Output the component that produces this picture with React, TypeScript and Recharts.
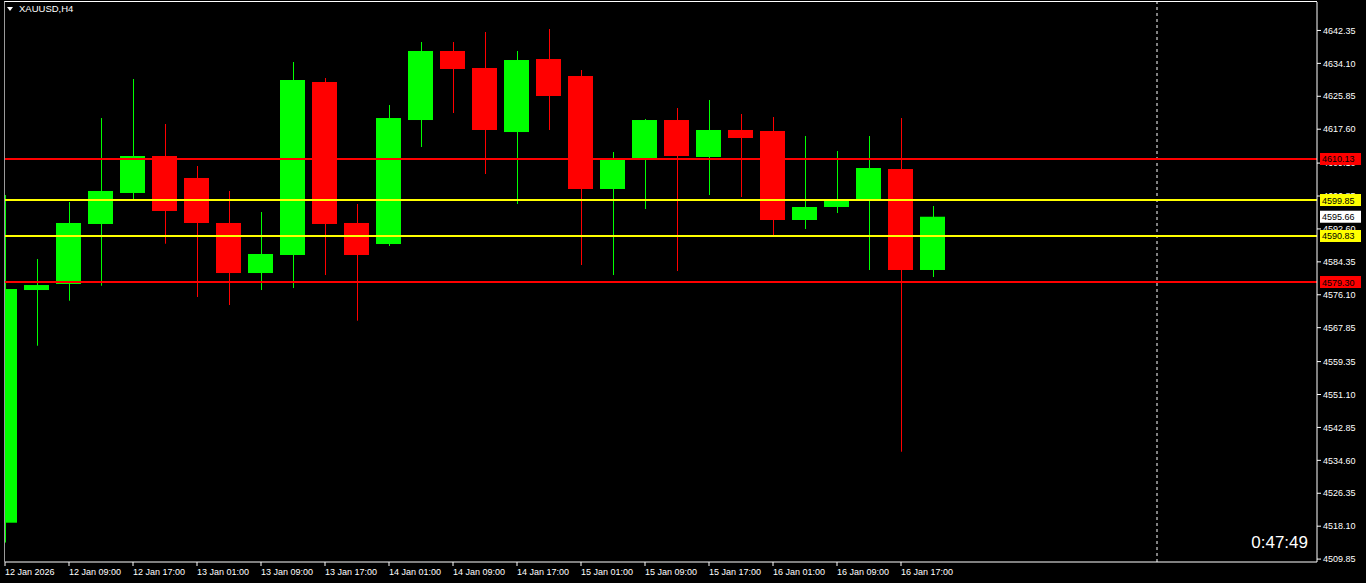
import React from "react";
import {
  ComposedChart,
  Bar,
  XAxis,
  YAxis,
  ReferenceLine,
} from "recharts";

// ---- data ----
const candleTimes = [
  "12 Jan 01:00", "12 Jan 05:00", "12 Jan 09:00", "12 Jan 13:00", "12 Jan 17:00", "12 Jan 21:00",
  "13 Jan 01:00", "13 Jan 05:00", "13 Jan 09:00", "13 Jan 13:00", "13 Jan 17:00", "13 Jan 21:00",
  "14 Jan 01:00", "14 Jan 05:00", "14 Jan 09:00", "14 Jan 13:00", "14 Jan 17:00", "14 Jan 21:00",
  "15 Jan 01:00", "15 Jan 05:00", "15 Jan 09:00", "15 Jan 13:00", "15 Jan 17:00", "15 Jan 21:00",
  "16 Jan 01:00", "16 Jan 05:00", "16 Jan 09:00", "16 Jan 13:00", "16 Jan 17:00", "16 Jan 21:00",
];

const opens = [
  4518.97, 4577.29, 4578.8, 4593.84, 4601.61, 4610.88,
  4605.37, 4594.09, 4581.55, 4586.07, 4629.43, 4594.09,
  4588.82, 4619.9, 4637.2, 4632.94, 4616.89, 4635.19,
  4630.93, 4602.61, 4609.88, 4619.9, 4610.63, 4617.4,
  4617.15, 4594.84, 4598.1, 4600.1, 4607.62, 4582.31,
];
const highs = [
  4601.1, 4585.06, 4599.35, 4620.4, 4630.18, 4618.9,
  4608.37, 4602.11, 4596.84, 4634.44, 4630.43, 4598.85,
  4623.66, 4639.45, 4639.45, 4641.96, 4637.2, 4642.71,
  4632.43, 4611.88, 4620.15, 4622.91, 4624.92, 4621.41,
  4620.65, 4615.89, 4612.13, 4615.89, 4620.4, 4598.35,
];
const lows = [
  4514.0, 4563.33, 4574.61, 4578.37, 4600.1, 4588.9,
  4575.54, 4573.53, 4577.29, 4577.79, 4581.05, 4569.6,
  4588.32, 4613.14, 4621.66, 4606.37, 4598.85, 4617.4,
  4583.56, 4581.05, 4597.6, 4582.05, 4601.1, 4600.6,
  4591.08, 4592.58, 4596.59, 4582.31, 4536.76, 4580.55,
];
const closes = [
  4577.54, 4578.54, 4594.09, 4602.11, 4610.88, 4597.1,
  4594.09, 4581.55, 4586.32, 4629.93, 4593.84, 4586.07,
  4620.4, 4637.2, 4632.69, 4617.4, 4634.94, 4625.92,
  4602.61, 4610.13, 4619.9, 4610.88, 4617.4, 4615.39,
  4594.84, 4598.1, 4600.1, 4607.87, 4582.31, 4595.66,
];

const xTickIndex = [0, 2, 4, 6, 8, 10, 12, 14, 16, 18, 20, 22, 24, 26, 28];
const xTickLabels = [
  "12 Jan 2026", "12 Jan 09:00", "12 Jan 17:00", "13 Jan 01:00", "13 Jan 09:00",
  "13 Jan 17:00", "14 Jan 01:00", "14 Jan 09:00", "14 Jan 17:00", "15 Jan 01:00",
  "15 Jan 09:00", "15 Jan 17:00", "16 Jan 01:00", "16 Jan 09:00", "16 Jan 17:00",
];

const yTicks = [
  4642.35, 4634.1, 4625.85, 4617.6, 4609.1, 4600.85, 4592.6, 4584.35, 4576.1,
  4567.85, 4559.35, 4551.1, 4542.85, 4534.6, 4526.35, 4518.1, 4509.85,
];

const levelPrices = [4610.13, 4599.85, 4590.83, 4579.3];
const levelColors = ["#ff0000", "#ffff00", "#ffff00", "#ff0000"];
const bidPrice = 4595.66;
const yDomain = [4509.12, 4649.48];
const xDomain = [0, 41];
const separatorIndex = 36;
const symbolTitle = "XAUUSD,H4";
const timerText = "0:47:49";

const data = candleTimes.map((t, i) => ({
  i,
  time: t,
  open: opens[i],
  high: highs[i],
  low: lows[i],
  close: closes[i],
  range: [lows[i], highs[i]],
}));

const FONT = "'Liberation Sans', Arial, sans-serif";

const Candle = (props: any) => {
  const { x, y, width, height, payload } = props;
  if (x == null || y == null || !payload) return null;
  const cx = x + width / 2;
  const top = Math.min(y, y + height);
  const h = Math.abs(height);
  const { open, close, high, low } = payload;
  const ppx = h / (high - low);
  const yOf = (v: number) => top + (high - v) * ppx;
  const up = close >= open;
  const color = up ? "#00ff00" : "#ff0000";
  const bTop = yOf(Math.max(open, close));
  const bBot = yOf(Math.min(open, close));
  return (
    <g>
      <rect x={Math.round(cx)} y={top} width={1} height={h} fill={color} />
      <rect
        x={Math.round(cx - 12.5)}
        y={bTop}
        width={25}
        height={Math.max(1, bBot - bTop)}
        fill={color}
      />
    </g>
  );
};

const XTick = (props: any) => {
  const { x, y, payload } = props;
  const k = xTickIndex.indexOf(payload.value);
  const label = k >= 0 ? xTickLabels[k] : "";
  return (
    <text x={x} y={y} dy={7} textAnchor="start" fill="#ffffff" fontSize={9} fontFamily={FONT}>
      {label}
    </text>
  );
};

const makePriceBox = (value: number, bg: string) => (p: any) => {
  const vb = p.viewBox || {};
  const bx = vb.x + vb.width + 3;
  const by = vb.y - 6;
  return (
    <g>
      <rect x={bx} y={by} width={41} height={12} fill={bg} />
      <text x={bx + 2} y={by + 9.5} fill="#000000" fontSize={9} fontFamily={FONT}>
        {value.toFixed(2)}
      </text>
    </g>
  );
};

export default function App() {
  return (
    <div
      style={{
        position: "absolute",
        left: 0,
        top: 0,
        width: 1366,
        height: 583,
        background: "#000000",
        overflow: "hidden",
      }}
    >
      <div
        style={{
          position: "absolute",
          left: 4,
          top: 1,
          width: 1312,
          height: 560,
          borderTop: "1px solid #ffffff",
          borderLeft: "1px solid #9a9a9a",
        }}
      />
      <ComposedChart
        width={1366}
        height={583}
        data={data}
        margin={{ top: 2, left: 5, right: 0, bottom: 0 }}
        style={{ position: "absolute", left: 0, top: 0 }}
      >
        <XAxis
          dataKey="i"
          type="number"
          domain={xDomain}
          ticks={xTickIndex}
          allowDataOverflow
          interval={0}
          height={21}
          stroke="#ffffff"
          tickSize={4}
          tickMargin={2}
          tick={<XTick />}
          axisLine={{ stroke: "#ffffff" }}
          tickLine={{ stroke: "#ffffff" }}
        />
        <YAxis
          orientation="right"
          type="number"
          domain={yDomain}
          ticks={yTicks}
          allowDataOverflow
          interval={0}
          width={49}
          tickSize={4}
          tickMargin={2}
          tickFormatter={(v: number) => v.toFixed(2)}
          tick={{ fill: "#ffffff", fontSize: 9, fontFamily: FONT }}
          axisLine={{ stroke: "#ffffff" }}
          tickLine={{ stroke: "#ffffff" }}
        />
        <ReferenceLine
          x={separatorIndex}
          stroke="#ffffff"
          strokeDasharray="3 3"
          strokeWidth={1}
        />
        {levelPrices.map((v, k) => (
          <ReferenceLine key={k} y={v} stroke={levelColors[k]} strokeWidth={2} />
        ))}
        <Bar
          dataKey="range"
          barSize={25}
          isAnimationActive={false}
          shape={<Candle />}
        />
      </ComposedChart>
      {/* overlay chart holding the price boxes on the right scale */}
      <ComposedChart
        width={1366}
        height={583}
        data={data}
        margin={{ top: 2, left: 5, right: 49, bottom: 21 }}
        style={{ position: "absolute", left: 0, top: 0 }}
      >
        <XAxis dataKey="i" type="number" domain={xDomain} hide allowDataOverflow />
        <YAxis type="number" domain={yDomain} hide allowDataOverflow />
        {levelPrices.map((v, k) => (
          <ReferenceLine
            key={k}
            y={v}
            stroke="transparent"
            label={makePriceBox(v, levelColors[k])}
          />
        ))}
        <ReferenceLine
          y={bidPrice}
          stroke="transparent"
          label={makePriceBox(bidPrice, "#ffffff")}
        />
      </ComposedChart>
      <div
        style={{
          position: "absolute",
          left: 7,
          top: 7,
          width: 0,
          height: 0,
          borderLeft: "3.5px solid transparent",
          borderRight: "3.5px solid transparent",
          borderTop: "4px solid #ffffff",
        }}
      />
      <div
        style={{
          position: "absolute",
          left: 19,
          top: 3,
          color: "#ffffff",
          fontSize: 9.5,
          fontFamily: FONT,
          lineHeight: "12px",
        }}
      >
        {symbolTitle}
      </div>
      <div
        style={{
          position: "absolute",
          right: 58,
          top: 533,
          color: "#ffffff",
          fontSize: 17,
          fontFamily: FONT,
          lineHeight: "20px",
        }}
      >
        {timerText}
      </div>
    </div>
  );
}
